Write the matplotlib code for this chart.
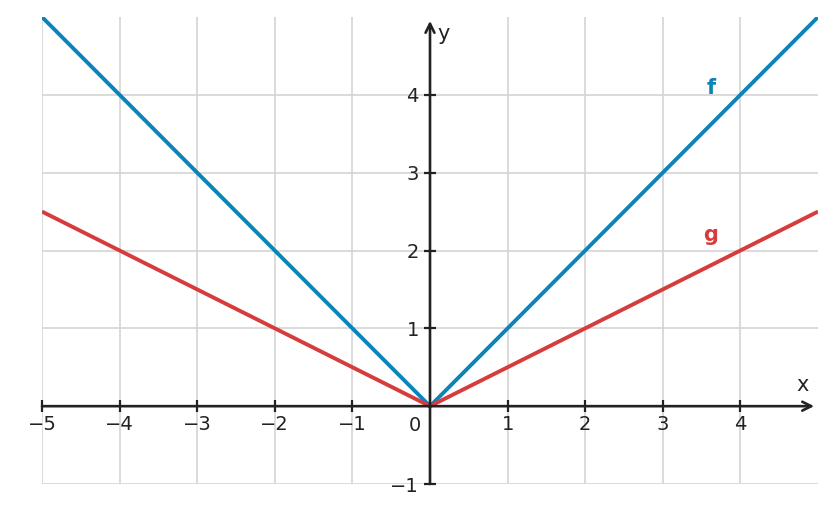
import numpy as np
import matplotlib.pyplot as plt

# funciones f(x) = |x| y g(x) = |x|/2
x_vals = [-5, 0, 5]
f_vals = [5, 0, 5]
g_vals = [2.5, 0, 2.5]

x_ticks = [-5, -4, -3, -2, -1, 1, 2, 3, 4]
y_ticks = [-1, 1, 2, 3, 4]

azul = "#0b84b8"
rojo = "#d63c3c"
oscuro = "#222222"

fig = plt.figure(figsize=(8.37, 5.12), dpi=100)
ax = fig.add_axes([42 / 837, 28 / 512, 776 / 837, 467 / 512])
ax.set_xlim(-5, 5)
ax.set_ylim(-1, 5)

ax.plot(x_vals, f_vals, color=azul, lw=2.8, zorder=3, solid_capstyle="butt")
ax.plot(x_vals, g_vals, color=rojo, lw=2.8, zorder=3, solid_capstyle="butt")

# ejes por el origen
for lado in ["left", "bottom"]:
    ax.spines[lado].set_position("zero")
    ax.spines[lado].set_color("none")
for lado in ["right", "top"]:
    ax.spines[lado].set_visible(False)

ax.annotate("", xy=(4.95, 0), xytext=(-5, 0),
            arrowprops=dict(arrowstyle="->", lw=1.9, color=oscuro,
                            shrinkA=0, shrinkB=0, mutation_scale=16), zorder=4)
ax.annotate("", xy=(0, 4.95), xytext=(0, -1),
            arrowprops=dict(arrowstyle="->", lw=1.9, color=oscuro,
                            shrinkA=0, shrinkB=0, mutation_scale=16), zorder=4)

ax.set_xticks(x_ticks)
ax.set_yticks(y_ticks)
ax.set_xticklabels([str(t).replace("-", "\u2212") for t in x_ticks])
ax.set_yticklabels([str(t).replace("-", "\u2212") for t in y_ticks])
ax.tick_params(direction="inout", length=8, width=1.6, color=oscuro,
               labelsize=14, labelcolor=oscuro)
ax.tick_params(axis="x", pad=2)
ax.tick_params(axis="y", pad=4)

ax.grid(True, color="#d4d4d4", lw=1.2, zorder=0)
ax.set_axisbelow(True)

ax.text(-0.12, -0.12, "0", ha="right", va="top", fontsize=14, color=oscuro)
ax.text(4.8, 0.14, "x", ha="center", va="bottom", fontsize=15, color=oscuro)
ax.text(0.1, 4.78, "y", ha="left", va="center", fontsize=15, color=oscuro)

ax.text(3.62, 4.09, "f", color=azul, fontsize=15, fontweight="bold",
        ha="center", va="center")
ax.text(3.62, 2.2, "g", color=rojo, fontsize=15, fontweight="bold",
        ha="center", va="center")

fig.savefig("out.png", dpi=100)
